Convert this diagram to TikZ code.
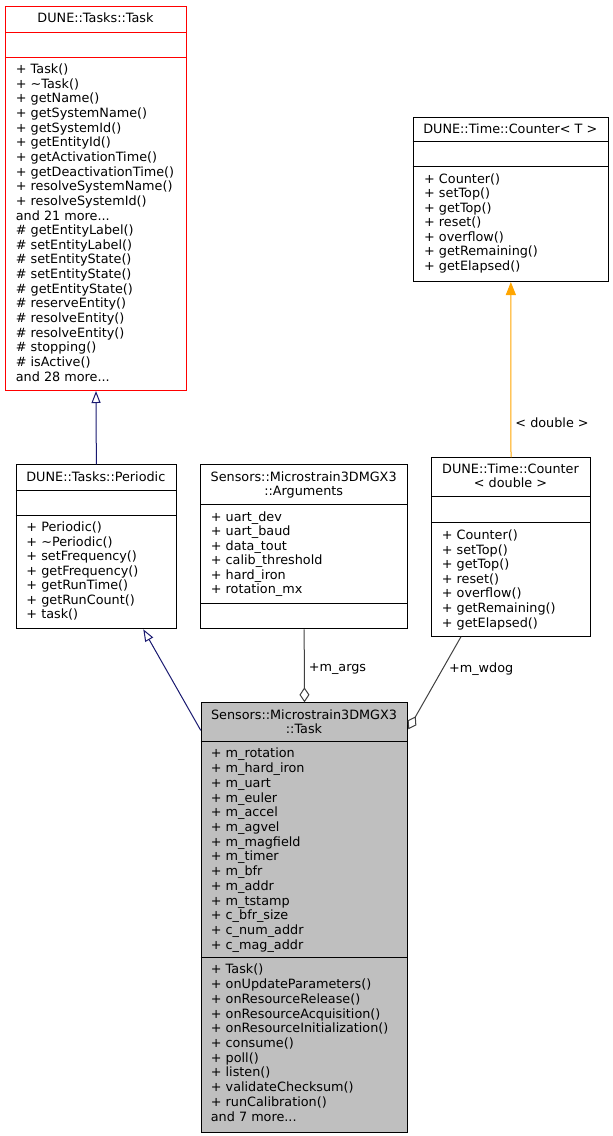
\documentclass[tikz,border=0pt]{standalone}
\usepackage{fontspec}
\setmainfont{DejaVu Sans}
\usepackage{tikz}
\usetikzlibrary{arrows.meta}
\definecolor{inheritblue}{HTML}{191970}
\definecolor{usegray}{HTML}{404040}
\definecolor{tmplorange}{HTML}{FFA500}
\definecolor{mainfill}{HTML}{BFBFBF}
\newcommand{\umlfont}{\fontsize{12.8}{14}\selectfont}
\newcommand{\moredots}{...}
\tikzset{
  classbox/.style={draw=black, line width=1pt, anchor=north west, inner sep=0pt},
  member/.style={anchor=base west, inner sep=0pt, font=\umlfont},
  title/.style={anchor=base, inner sep=0pt, font=\umlfont},
  lbl/.style={anchor=west, inner sep=0pt, font=\umlfont},
  inherit/.style={draw=inheritblue, line width=1pt, -{Triangle[open, length=12pt, width=9pt]}},
  aggr/.style={draw=usegray, line width=1pt, {Diamond[open, length=15pt, width=10pt]}-},
  tmpl/.style={draw=tmplorange, line width=1pt, -{Triangle[length=13pt, width=10pt]}}
}

\begin{document}
\begin{tikzpicture}[x=1pt, y=-1pt]
			\useasboundingbox (0,0) rectangle (613,1136);
			% DUNE::Tasks::Task
			\node[classbox, draw=red, minimum width=181pt, minimum height=384pt] (task) at (5,6) {};
			\draw[red, line width=1pt] (5,32) -- (186,32);
			\draw[red, line width=1pt] (5,57) -- (186,57);
			\node[title] (taskT) at (95.5,22.8) {DUNE::Tasks::Task};
			\foreach \t [count=\i from 0] in {+ Task(), + \textasciitilde Task(), + getName(), + getSystemName(),
			  + getSystemId(), + getEntityId(), + getActivationTime(), + getDeactivationTime(),
			  + resolveSystemName(), + resolveSystemId(), and 21 more\moredots, \# getEntityLabel(),
			  \# setEntityLabel(), \# setEntityState(), \# setEntityState(), \# getEntityState(),
			  \# reserveEntity(), \# resolveEntity(), \# resolveEntity(), \# stopping(),
			  \# isActive(), and 28 more\moredots}
			  \node[member] at (15.7,73.5+14.65*\i) {\t};
			% DUNE::Time::Counter< T >
			\node[classbox, minimum width=195.3pt, minimum height=164.3pt] (ctrT) at (412.7,116.7) {};
			\draw[line width=1pt] (412.7,141.7) -- (608,141.7);
			\draw[line width=1pt] (412.7,166.7) -- (608,166.7);
			\node[title] (ctrTT) at (510.3,133.8) {DUNE::Time::Counter< T >};
			\foreach \t [count=\i from 0] in {+ Counter(), + setTop(), + getTop(), + reset(),
			  + overflow(), + getRemaining(), + getElapsed()}
			  \node[member] at (424,183.5+14.45*\i) {\t};
			% DUNE::Tasks::Periodic
			\node[classbox, minimum width=160.3pt, minimum height=164pt] (periodic) at (15.7,464.3) {};
			\draw[line width=1pt] (15.7,490) -- (176,490);
			\draw[line width=1pt] (15.7,515) -- (176,515);
			\node[title] (periodicT) at (95.85,481.2) {DUNE::Tasks::Periodic};
			\foreach \t [count=\i from 0] in {+ Periodic(), + \textasciitilde Periodic(), + setFrequency(),
			  + getFrequency(), + getRunTime(), + getRunCount(), + task()}
			  \node[member] at (26.3,531.8+14.5*\i) {\t};
			% Sensors::Microstrain3DMGX3::Arguments
			\node[classbox, minimum width=207.3pt, minimum height=164pt] (args) at (200,464.3) {};
			\draw[line width=1pt] (200,504) -- (407.3,504);
			\draw[line width=1pt] (200,603.3) -- (407.3,603.3);
			\node[title] (argsT1) at (303.65,481.2) {Sensors::Microstrain3DMGX3};
			\node[title] (argsT2) at (303.65,495.2) {::Arguments};
			\foreach \t [count=\i from 0] in {+ uart\_dev, + uart\_baud, + data\_tout,
			  + calib\_threshold, + hard\_iron, + rotation\_mx}
			  \node[member] at (210.7,521.2+14.5*\i) {\t};
			% DUNE::Time::Counter< double >
			\node[classbox, minimum width=159pt, minimum height=178.4pt] (ctrD) at (431,457.3) {};
			\draw[line width=1pt] (431,496.7) -- (590,496.7);
			\draw[line width=1pt] (431,522.3) -- (590,522.3);
			\node[title] (ctrDT1) at (510.5,473.5) {DUNE::Time::Counter};
			\node[title] (ctrDT2) at (510.5,487.8) {< double >};
			\foreach \t [count=\i from 0] in {+ Counter(), + setTop(), + getTop(), + reset(),
			  + overflow(), + getRemaining(), + getElapsed()}
			  \node[member] at (441.7,539.5+14.6*\i) {\t};
			% Sensors::Microstrain3DMGX3::Task
			\node[classbox, fill=mainfill, minimum width=206.6pt, minimum height=429.4pt] (main) at (200.7,702.3) {};
			\draw[line width=1pt] (200.7,741.7) -- (407.3,741.7);
			\draw[line width=1pt] (200.7,957.7) -- (407.3,957.7);
			\node[title] (mainT1) at (304,719.5) {Sensors::Microstrain3DMGX3};
			\node[title] (mainT2) at (304,733.5) {::Task};
			\foreach \t [count=\i from 0] in {+ m\_rotation, + m\_hard\_iron, + m\_uart, + m\_euler,
			  + m\_accel, + m\_agvel, + m\_magfield, + m\_timer, + m\_bfr, + m\_addr,
			  + m\_tstamp, + c\_bfr\_size, + c\_num\_addr, + c\_mag\_addr}
			  \node[member] at (210.7,757.8+14.73*\i) {\t};
			\foreach \t [count=\i from 0] in {+ Task(), + onUpdateParameters(), + onResourceRelease(),
			  + onResourceAcquisition(), + onResourceInitialization(), + consume(), + poll(),
			  + listen(), + validateChecksum(), + runCalibration(), and 7 more\moredots}
			  \node[member] at (210.7,973.8+14.73*\i) {\t};
			% connectors
			\draw[inherit] (periodic.north) -- (task.south);
			\draw[inherit] ([yshift=-28pt]main.north west) -- ([xshift=-33.7pt]periodic.south east);
			\draw[aggr] (main.north) -- node[lbl, pos=0.45, xshift=4pt] {+m\_args} (args.south);
			\draw[aggr] ([yshift=-27pt]main.north east) -- node[lbl, pos=0.65, xshift=6pt] {+m\_wdog} ([xshift=30pt]ctrD.south west);
			\draw[tmpl] (ctrD.north) -- node[lbl, pos=0.2, xshift=4pt] {< double >} (ctrT.south);
		\end{tikzpicture}
\end{document}
